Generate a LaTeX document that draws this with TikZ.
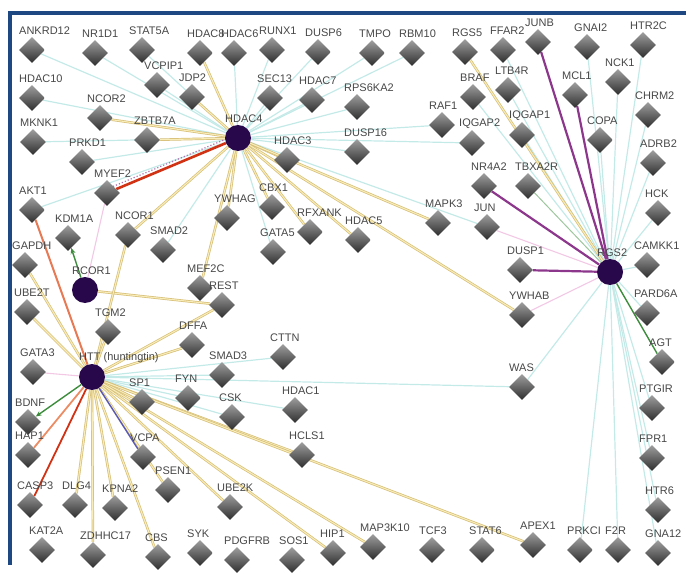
\documentclass[tikz,border=0pt]{standalone}
\usepackage{fontspec}
\usetikzlibrary{shapes.geometric,arrows.meta}
\newfontfamily\lab{Liberation Sans}
\pgfdeclarelayer{bg}
\pgfsetlayers{bg,main}
\definecolor{frameblue}{RGB}{30,72,130}
\definecolor{hubcol}{RGB}{40,8,75}
\definecolor{faintc}{RGB}{196,234,232}
\definecolor{tanc}{RGB}{214,190,118}
\definecolor{tanin}{RGB}{248,236,185}
\definecolor{purpc}{RGB}{140,55,140}
\definecolor{redc}{RGB}{210,50,20}
\definecolor{orngc}{RGB}{236,140,100}
\definecolor{grnc}{RGB}{60,140,60}
\definecolor{bluc}{RGB}{90,90,180}
\definecolor{pinkc}{RGB}{242,200,228}
\tikzset{
  gene/.style={diamond, minimum width=26pt, minimum height=26pt, inner sep=0pt, top color=black!38, bottom color=black!82, draw=none},
  hub/.style={circle, minimum size=26pt, inner sep=0pt, fill=hubcol},
  lbl/.style={anchor=west, inner sep=0pt, font=\lab\fontsize{11}{12}\selectfont, text=black!72},
  faint/.style={draw=faintc, line width=1.2pt},
  tan/.style={draw=tanc, line width=0.7pt, double=tanin, double distance=1.1pt},
  purp/.style={draw=purpc, line width=2.2pt},
  redl/.style={draw=redc, line width=2.6pt},
  orng/.style={draw=orngc, line width=1.8pt},
  grn/.style={draw=grnc, line width=1.4pt},
  grnarr/.style={draw=grnc, line width=1.4pt, -{Stealth[length=6pt,width=5pt]}},
  blu/.style={draw=bluc, line width=1.4pt},
  pinkf/.style={draw=pinkc, line width=1.1pt},
  pdot/.style={draw=purpc!70, line width=1.2pt, dotted},
}
\newcommand\gn[4]{\node[gene] (#1) at (#2,#3) {}; \node[lbl] (#1-l) at (#2-13,#3-19) {#4};}
\newcommand\hb[4]{\node[hub] (#1) at (#2,#3) {}; \node[lbl] (#1-l) at (#2-13,#3-19) {#4};}
\begin{document}
\begin{tikzpicture}[x=1pt,y=-1pt]
\useasboundingbox (0,0) rectangle (686,575);
\fill[frameblue] (8,11) rectangle (686,15);
\fill[frameblue] (8,11) rectangle (12,565);
% genes
\gn{ankrd12}{32}{50}{ANKRD12}
\gn{nr1d1}{95}{53}{NR1D1}
\gn{stat5a}{142}{50}{STAT5A}
\gn{hdac8}{200}{53}{HDAC8}
\gn{hdac6}{234}{53}{HDAC6}
\gn{runx1}{272}{50}{RUNX1}
\gn{dusp6}{318}{52}{DUSP6}
\gn{tmpo}{372}{53}{TMPO}
\gn{rbm10}{412}{53}{RBM10}
\gn{rgs5}{465}{52}{RGS5}
\gn{ffar2}{503}{50}{FFAR2}
\gn{junb}{538}{42}{JUNB}
\gn{gnai2}{587}{47}{GNAI2}
\gn{htr2c}{643}{45}{HTR2C}
\gn{vcpip1}{157}{85}{VCPIP1}
\gn{jdp2}{192}{97}{JDP2}
\gn{hdac10}{32}{98}{HDAC10}
\gn{sec13}{270}{98}{SEC13}
\gn{hdac7}{312}{100}{HDAC7}
\gn{rps6ka2}{357}{107}{RPS6KA2}
\gn{braf}{473}{97}{BRAF}
\gn{ltb4r}{508}{90}{LTB4R}
\gn{mcl1}{575}{95}{MCL1}
\gn{nck1}{618}{82}{NCK1}
\gn{chrm2}{648}{115}{CHRM2}
\gn{ncor2}{100}{118}{NCOR2}
\gn{zbtb7a}{147}{140}{ZBTB7A}
\gn{mknk1}{33}{142}{MKNK1}
\gn{prkd1}{82}{162}{PRKD1}
\gn{hdac3}{287}{160}{HDAC3}
\gn{dusp16}{357}{152}{DUSP16}
\gn{raf1}{442}{125}{RAF1}
\gn{iqgap2}{472}{143}{IQGAP2}
\gn{iqgap1}{522}{135}{IQGAP1}
\gn{copa}{600}{140}{COPA}
\gn{adrb2}{653}{163}{ADRB2}
\gn{nr4a2}{484}{186}{NR4A2}
\gn{tbxa2r}{528}{186}{TBXA2R}
\gn{myef2}{107}{193}{MYEF2}
\gn{akt1}{32}{210}{AKT1}
\gn{ywhag}{227}{218}{YWHAG}
\gn{cbx1}{272}{207}{CBX1}
\gn{rfxank}{310}{232}{RFXANK}
\gn{hdac5}{358}{240}{HDAC5}
\gn{mapk3}{438}{223}{MAPK3}
\gn{jun}{487}{227}{JUN}
\gn{hck}{658}{213}{HCK}
\gn{kdm1a}{68}{238}{KDM1A}
\gn{ncor1}{128}{235}{NCOR1}
\gn{smad2}{163}{250}{SMAD2}
\gn{gata5}{273}{252}{GATA5}
\gn{gapdh}{25}{265}{GAPDH}
\gn{mef2c}{200}{288}{MEF2C}
\gn{rest}{222}{305}{REST}
\gn{dusp1}{520}{270}{DUSP1}
\gn{camkk1}{647}{265}{CAMKK1}
\gn{ube2t}{27}{312}{UBE2T}
\gn{tgm2}{108}{332}{TGM2}
\gn{dffa}{192}{345}{DFFA}
\gn{ywhab}{522}{315}{YWHAB}
\gn{pard6a}{647}{313}{PARD6A}
\gn{cttn}{283}{357}{CTTN}
\gn{agt}{662}{362}{AGT}
\gn{gata3}{33}{372}{GATA3}
\gn{smad3}{222}{375}{SMAD3}
\gn{was}{522}{387}{WAS}
\gn{sp1}{142}{402}{SP1}
\gn{fyn}{188}{398}{FYN}
\gn{csk}{232}{417}{CSK}
\gn{hdac1}{295}{410}{HDAC1}
\gn{ptgir}{652}{408}{PTGIR}
\gn{bdnf}{28}{422}{BDNF}
\gn{hap1}{28}{455}{HAP1}
\gn{vcpa}{143}{457}{VCPA}
\gn{hcls1}{302}{455}{HCLS1}
\gn{fpr1}{652}{458}{FPR1}
\gn{psen1}{168}{490}{PSEN1}
\gn{casp3}{30}{505}{CASP3}
\gn{dlg4}{75}{505}{DLG4}
\gn{kpna2}{115}{508}{KPNA2}
\gn{ube2k}{230}{507}{UBE2K}
\gn{htr6}{658}{510}{HTR6}
\gn{kat2a}{42}{550}{KAT2A}
\gn{zdhhc17}{93}{555}{ZDHHC17}
\gn{cbs}{158}{557}{CBS}
\gn{syk}{200}{553}{SYK}
\gn{pdgfrb}{237}{560}{PDGFRB}
\gn{sos1}{292}{560}{SOS1}
\gn{hip1}{333}{553}{HIP1}
\gn{map3k10}{373}{547}{MAP3K10}
\gn{tcf3}{432}{550}{TCF3}
\gn{stat6}{482}{550}{STAT6}
\gn{apex1}{533}{545}{APEX1}
\gn{prkci}{580}{550}{PRKCI}
\gn{f2r}{618}{550}{F2R}
\gn{gna12}{658}{553}{GNA12}
% hubs
\hb{hdac4}{238}{138}{HDAC4}
\hb{rcor1}{85}{290}{RCOR1}
\hb{htt}{92}{377}{HTT (huntingtin)}
\hb{rgs2}{610}{272}{RGS2}
% edges
\begin{pgfonlayer}{bg}
\foreach \t in {ankrd12,nr1d1,stat5a,vcpip1,hdac10,mknk1,prkd1,hdac6,runx1,dusp6,tmpo,rbm10,sec13,hdac7,rps6ka2,dusp16,raf1,iqgap2,akt1,smad2,gata5,jun}
  \draw[faint] (hdac4) -- (\t);
\foreach \t in {htr2c,nck1,chrm2,adrb2,hck,camkk1,pard6a,ptgir,fpr1,htr6,gna12,f2r,prkci,was,copa,gnai2,ffar2,ltb4r,iqgap1,braf}
  \draw[faint] (rgs2) -- (\t);
\foreach \t in {fyn,csk,hdac1,was,smad3,cttn}
  \draw[faint] (htt) -- (\t);
\draw[pinkf] (rgs2) -- (jun);
\draw[pinkf] (rgs2) -- (ywhab);
\draw[pinkf] (htt) -- (gata3);
\draw[pinkf] (rcor1) -- (myef2);
\draw[grnc!50, line width=1pt] (rgs2) -- (tbxa2r);
\foreach \t in {hdac8,jdp2,ncor2,zbtb7a,hdac3,ywhag,cbx1,rfxank,hdac5,mapk3,ywhab,mef2c,ncor1}
  \draw[tan] (hdac4) -- (\t);
\draw[tan] (rgs2) -- (rgs5);
\draw[tan] (rcor1) -- (rest);
\foreach \t in {gapdh,ube2t,tgm2,dffa,rest,ncor1,sp1,hcls1,ube2k,hip1,apex1,dlg4,zdhhc17,cbs,psen1,kpna2,map3k10}
  \draw[tan] (htt) -- (\t);
\draw[redl] (hdac4) -- (myef2);
\draw[pdot] ([yshift=4pt]hdac4.center) -- ([yshift=4pt]myef2.center);
\draw[orngc!80!redc, line width=2pt] (htt) -- (akt1);
\draw[orng] (htt) -- (hap1);
\draw[redc, line width=1.8pt] (htt) -- (casp3);
\draw[grnarr] (htt) -- (bdnf);
\draw[grnarr] (rcor1) -- (kdm1a);
\draw[blu] (htt) -- (vcpa);
\foreach \t in {junb,mcl1,nr4a2,dusp1}
  \draw[purp] (rgs2) -- (\t);
\draw[grn] (rgs2) -- (agt);
\end{pgfonlayer}
\end{tikzpicture}
\end{document}
